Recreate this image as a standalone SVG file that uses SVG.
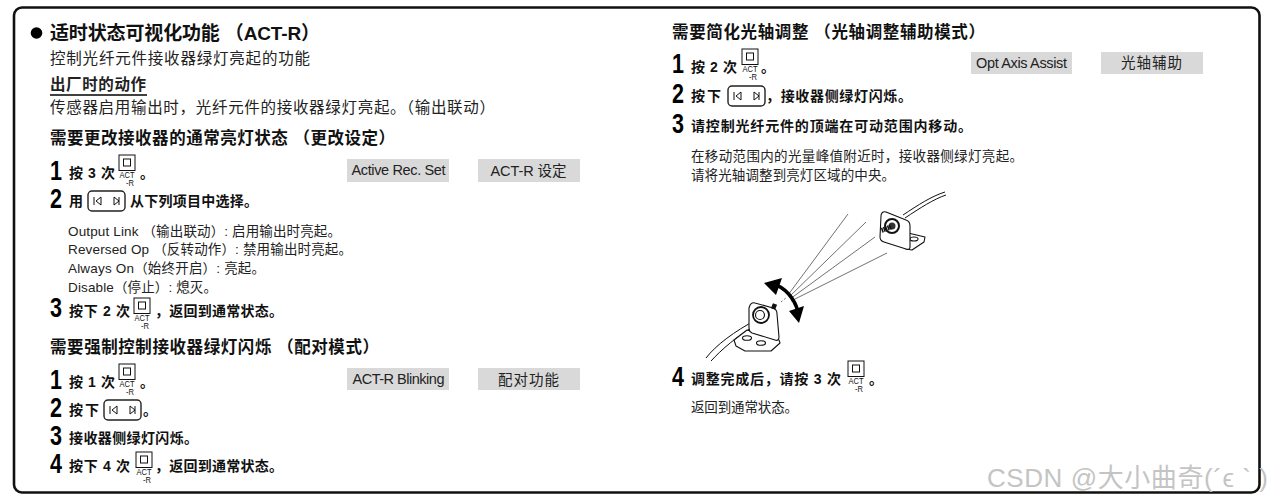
<svg xmlns="http://www.w3.org/2000/svg" width="1271" height="499" viewBox="0 0 1271 499">
<style>
text{font-family:"Liberation Sans","Noto Sans CJK SC",sans-serif;fill:#111}
.h1{font-size:19px;font-weight:700}
.h2{font-size:16.5px;font-weight:700}
.b{font-size:15.500px;fill:#222}
.n{font-size:27px;font-weight:700;fill:#000}
.s{font-size:14px;font-weight:700}
.t{font-size:13.500px;fill:#222}
.g{font-size:14.500px;fill:#222;text-anchor:middle}
.a{font-size:8.500px;fill:#111;text-anchor:middle}
.gr{fill:#d9d9d9}
.l{fill:none;stroke:#111;stroke-width:1}
.w{fill:#fff;stroke:#111;stroke-width:1.1;stroke-linejoin:round}
.ray{stroke:#333;stroke-width:.7;fill:none}
</style>
<defs>
<g id="act">
<rect x="0" y="0" width="16" height="15.500" class="l"/>
<rect x="4.500" y="4" width="7" height="7" class="l"/>
<text class="a" x="8" y="23" textLength="15" lengthAdjust="spacingAndGlyphs">ACT</text>
<text class="a" x="11" y="30.500" textLength="8" lengthAdjust="spacingAndGlyphs">-R</text>
</g>
<g id="btn">
<rect x="0" y="0" width="37" height="20" rx="4" fill="#fff" stroke="#222" stroke-width="1.400"/>
<path d="M6 6V14M13 6L8 10L13 14ZM31 6V14M26 6L31 10L26 14Z" class="l" stroke-width=".9"/>
</g>
</defs>
<rect width="1271" height="499" fill="#fff"/>
<rect id="frame" x="14" y="7.500" width="1245.500" height="485" rx="8" fill="none" stroke="#111" stroke-width="2.600"/>

<g id="left-intro">
<circle cx="36.500" cy="33" r="5.800" fill="#000"/>
<text class="h1" x="50" y="39.500" textLength="270">适时状态可视化功能 （ACT-R）</text>
<text class="b" x="50" y="64" textLength="260">控制光纤元件接收器绿灯亮起的功能</text>
<text class="b" x="50" y="90" textLength="96" font-weight="700">出厂时的动作</text>
<line x1="50" y1="95" x2="147" y2="95" stroke="#000" stroke-width="1.500"/>
<text class="b" x="50" y="113" textLength="445">传感器启用输出时，光纤元件的接收器绿灯亮起。（输出联动）</text>
</g>

<g id="change-setting">
<text class="h2" x="50" y="144" textLength="345">需要更改接收器的通常亮灯状态 （更改设定）</text>
<text class="n" x="50" y="180" textLength="12" lengthAdjust="spacingAndGlyphs">1</text>
<text class="s" x="69" y="178" textLength="46">按 3 次</text>
<use href="#act" x="119" y="155"/>
<text class="s" x="140" y="178">。</text>
<rect class="gr" x="347" y="159" width="102" height="23"/>
<rect class="gr" x="478" y="159" width="102" height="23"/>
<text class="g" x="398.500" y="175" textLength="94">Active Rec. Set</text>
<text class="g" x="528.500" y="176" textLength="76">ACT-R 设定</text>
<text class="n" x="50" y="208" textLength="12" lengthAdjust="spacingAndGlyphs">2</text>
<text class="s" x="69" y="206">用</text>
<use href="#btn" x="88" y="191"/>
<text class="s" x="130" y="206" textLength="128">从下列项目中选择。</text>
<text class="t" x="68" y="236" textLength="273">Output Link （输出联动）: 启用输出时亮起。</text>
<text class="t" x="68" y="254" textLength="284">Reversed Op （反转动作）: 禁用输出时亮起。</text>
<text class="t" x="68" y="273" textLength="197">Always On（始终开启）: 亮起。</text>
<text class="t" x="68" y="292" textLength="149">Disable（停止）: 熄灭。</text>
<text class="n" x="50" y="317" textLength="12" lengthAdjust="spacingAndGlyphs">3</text>
<text class="s" x="69" y="316" textLength="61">按下 2 次</text>
<use href="#act" x="134" y="298"/>
<text class="s" x="155" y="316" textLength="128">，返回到通常状态。</text>
</g>

<g id="pairing-mode">
<text class="h2" x="50" y="353" textLength="329">需要强制控制接收器绿灯闪烁 （配对模式）</text>
<text class="n" x="50" y="389" textLength="12" lengthAdjust="spacingAndGlyphs">1</text>
<text class="s" x="69" y="387" textLength="46">按 1 次</text>
<use href="#act" x="119" y="364"/>
<text class="s" x="140" y="387">。</text>
<rect class="gr" x="347" y="368" width="102" height="22"/>
<rect class="gr" x="478" y="368" width="102" height="22"/>
<text class="g" x="398.500" y="384" textLength="92">ACT-R Blinking</text>
<text class="g" x="528.500" y="385" textLength="61">配对功能</text>
<text class="n" x="50" y="417" textLength="12" lengthAdjust="spacingAndGlyphs">2</text>
<text class="s" x="69" y="415" textLength="30">按下</text>
<use href="#btn" x="104" y="400"/>
<text class="s" x="143" y="415">。</text>
<text class="n" x="50" y="445" textLength="12" lengthAdjust="spacingAndGlyphs">3</text>
<text class="s" x="69" y="443" textLength="129">接收器侧绿灯闪烁。</text>
<text class="n" x="50" y="473" textLength="12" lengthAdjust="spacingAndGlyphs">4</text>
<text class="s" x="69" y="471" textLength="61">按下 4 次</text>
<use href="#act" x="136" y="452"/>
<text class="s" x="155" y="471" textLength="128">，返回到通常状态。</text>
</g>

<g id="axis-assist">
<text class="h2" x="672" y="38" textLength="313">需要简化光轴调整 （光轴调整辅助模式）</text>
<text class="n" x="672" y="73" textLength="12" lengthAdjust="spacingAndGlyphs">1</text>
<text class="s" x="691" y="72" textLength="46">按 2 次</text>
<use href="#act" x="742" y="49"/>
<text class="s" x="761" y="72">。</text>
<rect class="gr" x="971" y="52" width="101" height="22"/>
<rect class="gr" x="1101" y="52" width="102" height="22"/>
<text class="g" x="1021.500" y="68" textLength="91">Opt Axis Assist</text>
<text class="g" x="1151.500" y="68" textLength="61">光轴辅助</text>
<text class="n" x="672" y="103" textLength="12" lengthAdjust="spacingAndGlyphs">2</text>
<text class="s" x="691" y="101" textLength="30">按下</text>
<use href="#btn" x="728" y="86"/>
<text class="s" x="766" y="101" textLength="146">，接收器侧绿灯闪烁。</text>
<text class="n" x="672" y="133" textLength="12" lengthAdjust="spacingAndGlyphs">3</text>
<text class="s" x="691" y="131" textLength="281">请控制光纤元件的顶端在可动范围内移动。</text>
<text class="t" x="691" y="161" textLength="332">在移动范围内的光量峰值附近时，接收器侧绿灯亮起。</text>
<text class="t" x="691" y="180" textLength="204">请将光轴调整到亮灯区域的中央。</text>
<text class="n" x="672" y="386" textLength="12" lengthAdjust="spacingAndGlyphs">4</text>
<text class="s" x="691" y="384" textLength="150">调整完成后，请按 3 次</text>
<use href="#act" x="848" y="361"/>
<text class="s" x="869" y="384">。</text>
<text class="t" x="691" y="412" textLength="107">返回到通常状态。</text>
</g>

<g id="illustration">
<g class="ray">
<path d="M848 214L788 295M866 222L789 297M875 237L790 299M887 253L791 301"/>
<path d="M781 302L787 297" stroke-dasharray="2 2"/>
</g>
<g id="upper-sensor">
<path d="M903 215C918 205 932 196 945 192M905 218C920 208 934 199 946 195" class="l"/>
<path class="w" d="M908 233L925 237L924 242L912 250L906 249Z"/>
<ellipse cx="914" cy="239" rx="4" ry="2" class="w"/>
<path class="w" d="M886 212L906 220C909 221 910 223 910 226L910 247C910 249 908 250 906 249L884 242C881 241 880 239 880 237L881 216C881 213 883 211 886 212Z"/>
<circle cx="892" cy="226" r="7" fill="#fff" stroke="#111" stroke-width="2"/>
<circle cx="892" cy="226" r="3.500" fill="#333"/>
<path d="M891 227L881 230.500" stroke="#111" stroke-width="5" stroke-dasharray="1.500 .6"/>
</g>
<g id="lower-sensor">
<path d="M756 320C735 331 716 345 706 358M758 324C738 335 721 350 711 361" class="l"/>
<path class="w" d="M734 340L747 330L779 340L780 343L771 351L745 351L736 346Z"/>
<ellipse cx="747" cy="338" rx="4.500" ry="2.300" class="w"/>
<ellipse cx="761" cy="343" rx="4.500" ry="2.300" class="w"/>
<path class="w" d="M749 308C750 304 752 302 755 303L773 308C776 309 777 311 777 314L779 337C779 340 777 341 775 340L752 333C750 332 749 330 749 328Z"/>
<circle cx="761" cy="315" r="8" fill="#fff" stroke="#111" stroke-width="1.800"/>
<circle cx="760" cy="315" r="4.500" class="w"/>
<path d="M773 309L775 304" stroke="#111" stroke-width="4.500"/>
</g>
<g id="swing-arrow">
<path d="M773 284C785 287 795 299 798 312" fill="none" stroke="#000" stroke-width="3.500"/>
<path d="M764 283L782 278L776 295ZM799 323L789 311L804 306Z" fill="#000"/>
</g>
</g>
<text id="watermark" x="987" y="487" style="fill:#c4c4c4;font-size:26px" textLength="281">CSDN @大小曲奇(´ϵ ` )</text>
</svg>
